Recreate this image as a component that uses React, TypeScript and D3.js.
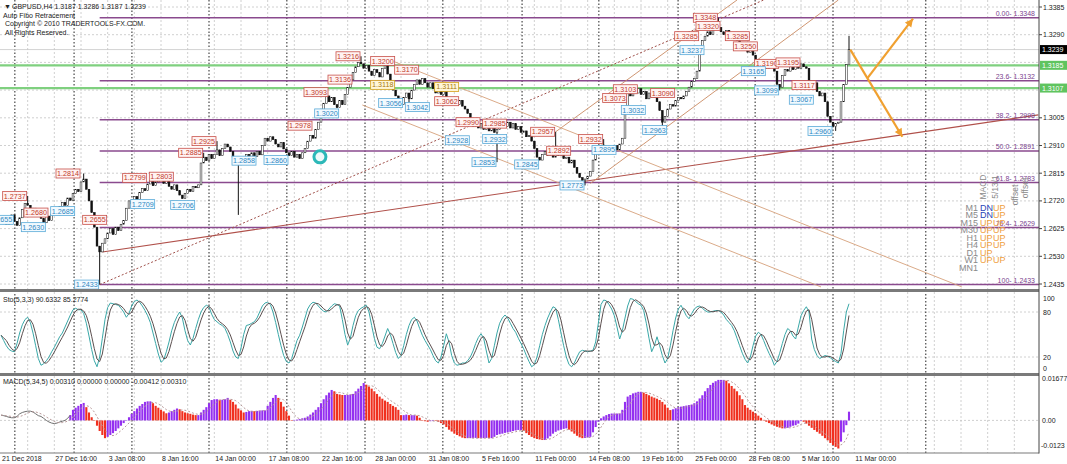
import React from "react";
import * as d3 from "d3";

// ---- price data (H4 closes) ----
const firstOpen = 1.2655;
const closes = [
  1.2650, 1.2662, 1.2640, 1.2655, 1.2672, 1.2650, 1.2636, 1.2662, 1.2690, 1.2712,
  1.2705, 1.2680, 1.2695, 1.2670, 1.2688, 1.2660, 1.2645, 1.2668, 1.2652, 1.2675,
  1.2690, 1.2672, 1.2700, 1.2715, 1.2705, 1.2730, 1.2722, 1.2745, 1.2760, 1.2752,
  1.2785, 1.2795, 1.2760, 1.2720, 1.2680, 1.2630, 1.2565, 1.2545, 1.2575, 1.2590,
  1.2610, 1.2625, 1.2605, 1.2630, 1.2618, 1.2640, 1.2652, 1.2695, 1.2720, 1.2710,
  1.2735, 1.2725, 1.2748, 1.2762, 1.2755, 1.2778, 1.2790, 1.2772, 1.2785, 1.2800,
  1.2795, 1.2780, 1.2790, 1.2770, 1.2760, 1.2775, 1.2755, 1.2740, 1.2728, 1.2745,
  1.2760, 1.2752, 1.2770, 1.2765, 1.2775, 1.2850, 1.2870, 1.2858, 1.2880, 1.2865,
  1.2880, 1.2895, 1.2875, 1.2900, 1.2915, 1.2905, 1.2890, 1.2870, 1.2860, 1.2850,
  1.2870, 1.2862, 1.2880, 1.2868, 1.2885, 1.2872, 1.2890, 1.2878, 1.2910, 1.2935,
  1.2925, 1.2940, 1.2930, 1.2915, 1.2905, 1.2920, 1.2898, 1.2885, 1.2875, 1.2890,
  1.2870, 1.2880, 1.2865, 1.2885, 1.2900, 1.2925, 1.2945, 1.2935, 1.2965, 1.2990,
  1.3030, 1.3055, 1.3080, 1.3060, 1.3075, 1.3050, 1.3040, 1.3065, 1.3050, 1.3085,
  1.3110, 1.3135, 1.3160, 1.3180, 1.3195, 1.3190, 1.3175, 1.3185, 1.3165, 1.3150,
  1.3170, 1.3160, 1.3145, 1.3175, 1.3185, 1.3155, 1.3130, 1.3100, 1.3080, 1.3060,
  1.3050, 1.3075, 1.3090, 1.3070, 1.3100, 1.3120, 1.3135, 1.3120, 1.3140, 1.3125,
  1.3110, 1.3125, 1.3105, 1.3090, 1.3100, 1.3085, 1.3095, 1.3070, 1.3060, 1.3075,
  1.3060, 1.3050, 1.3065, 1.3045, 1.3035, 1.3020, 1.2990, 1.2975, 1.2985, 1.2970,
  1.2985, 1.2965, 1.2980, 1.2960, 1.2975, 1.2955, 1.2965, 1.2980, 1.2995, 1.2975,
  1.2990, 1.2970, 1.2985, 1.2965, 1.2975, 1.2955, 1.2960, 1.2940, 1.2945, 1.2925,
  1.2900, 1.2870, 1.2860, 1.2880, 1.2890, 1.2875, 1.2885, 1.2870, 1.2880, 1.2875,
  1.2880, 1.2865, 1.2870, 1.2850, 1.2860, 1.2835, 1.2815, 1.2800, 1.2790, 1.2795,
  1.2805, 1.2820, 1.2860, 1.2885, 1.2900, 1.2910, 1.2895, 1.2905, 1.2890, 1.2900,
  1.2910, 1.2895, 1.2915, 1.2935, 1.3040, 1.3095, 1.3080, 1.3100, 1.3090, 1.3105,
  1.3085, 1.3095, 1.3070, 1.3090, 1.3075, 1.3085, 1.3060, 1.3030, 1.2990, 1.3010,
  1.3035, 1.3050, 1.3045, 1.3065, 1.3075, 1.3070, 1.3080, 1.3095, 1.3110, 1.3130,
  1.3140, 1.3165, 1.3250, 1.3270, 1.3285, 1.3300, 1.3290, 1.3310, 1.3320, 1.3315,
  1.3300, 1.3290, 1.3305, 1.3285, 1.3275, 1.3290, 1.3270, 1.3255, 1.3260, 1.3240,
  1.3230, 1.3240, 1.3220, 1.3205, 1.3195, 1.3200, 1.3185, 1.3175, 1.3190, 1.3180,
  1.3165, 1.3120, 1.3110, 1.3150, 1.3170, 1.3165, 1.3180, 1.3170, 1.3185, 1.3175,
  1.3190, 1.3180, 1.3175, 1.3130, 1.3110, 1.3125, 1.3095, 1.3080, 1.3090, 1.3060,
  1.3010, 1.2990, 1.2975, 1.2985, 1.2990, 1.3060, 1.3120, 1.3187, 1.3239,
];

// notable wick extremes
const wickHighBars = [10, 31, 76, 81, 135, 208, 226, 269, 318];
const wickHighPrices = [1.2737, 1.2814, 1.2885, 1.2925, 1.3216, 1.2957, 1.2932, 1.3348, 1.3286];
const wickLowBars = [37, 89, 153, 186, 219, 248, 292, 313];
const wickLowPrices = [1.2433, 1.2672, 1.3042, 1.2853, 1.2773, 1.2963, 1.3099, 1.2960];

// Stochastic (5,3,3) main line
const stochMain = [
  49, 42, 35, 30, 28, 27, 38, 52, 63, 70,
  73, 66, 52, 35, 18, 9, 11, 15, 20, 27,
  33, 40, 47, 52, 60, 68, 76, 83, 85, 83,
  83, 78, 65, 48, 30, 15, 7, 20, 45, 70,
  86, 92, 91, 90, 89, 85, 80, 73, 78, 88,
  94, 96, 93, 88, 82, 75, 66, 52, 38, 24,
  13, 16, 27, 40, 55, 66, 74, 80, 72, 55,
  42, 36, 45, 58, 70, 80, 86, 89, 87, 77,
  70, 67, 64, 62, 58, 50, 40, 28, 20, 18,
  32, 50, 62, 63, 65, 67, 72, 80, 88, 92,
  93, 90, 80, 66, 50, 35, 22, 14, 12, 18,
  30, 42, 49, 60, 72, 84, 90, 93, 92, 88,
  84, 81, 80, 84, 88, 91, 90, 88, 70, 50,
  36, 45, 62, 75, 82, 85, 87, 89, 80, 62,
  45, 33, 31, 38, 48, 58, 50, 38, 26, 18,
  22, 35, 50, 62, 70, 73, 68, 58, 49, 42,
  36, 30, 22, 15, 12, 20, 35, 51, 40, 22,
  12, 9, 10, 12, 12, 15, 20, 28, 38, 46,
  51, 45, 28, 12, 18, 35, 52, 65, 72, 76,
  72, 65, 58, 53, 45, 38, 31, 22, 14, 7,
  10, 20, 35, 50, 62, 72, 80, 87, 85, 70,
  52, 35, 20, 10, 7, 12, 20, 27, 29, 28,
  27, 28, 29, 40, 65, 90, 96, 95, 90, 84,
  75, 60, 44, 55, 72, 88, 98, 97, 94, 91,
  89, 82, 65, 45, 27, 35, 47, 35, 22, 12,
  18, 35, 55, 72, 84, 89, 82, 75, 71, 78,
  84, 87, 88, 85, 82, 80, 80, 81, 82, 82,
  80, 76, 70, 66, 62, 55, 45, 35, 25, 17,
  12, 20, 35, 48, 53, 50, 42, 33, 25, 18,
  9, 14, 25, 38, 50, 58, 55, 48, 44, 60,
  75, 82, 87, 80, 44, 30, 22, 18, 20, 22,
  21, 19, 16, 14, 12, 25, 55, 80, 91,
];

// MACD (5,34,5) main values, in units of 0.0001
const macdTicks = [
  20, 18, 15, 12, 10, 10, 15, 25, 30, 33,
  35, 35, 32, 25, 18, 15, 8, 0, -6, -10,
  -12, -10, -6, -3, 0, 8, 20, 40, 48, 55,
  62, 66, 50, 30, 12, 0, -20, -40, -55, -67,
  -62, -55, -48, -40, -30, -20, -10, 0, 12, 25,
  35, 45, 55, 62, 70, 72, 72, 65, 55, 48,
  40, 34, 27, 30, 35, 40, 45, 42, 35, 30,
  27, 25, 22, 20, 20, 30, 40, 50, 65, 77,
  80, 80, 78, 78, 80, 85, 78, 70, 60, 45,
  38, 30, 32, 35, 36, 35, 36, 37, 38, 38,
  55, 70, 85, 96, 85, 70, 52, 35, 18, 0,
  2, 3, 5, 8, 10, 15, 22, 30, 40, 50,
  65, 80, 95, 105, 115, 110, 100, 98, 96, 96,
  96, 98, 100, 110, 120, 130, 141, 135, 128, 120,
  110, 100, 90, 82, 75, 70, 62, 55, 50, 40,
  20, 20, 22, 20, 20, 20, 18, 10, 0, -3,
  -5, -3, 0, -2, -5, -10, -15, -25, -35, -42,
  -50, -55, -60, -65, -67, -67, -67, -67, -66, -67,
  -67, -67, -66, -67, -67, -62, -55, -52, -50, -47,
  -45, -43, -40, -38, -36, -36, -40, -48, -55, -62,
  -67, -70, -72, -74, -74, -68, -60, -50, -43, -38,
  -35, -32, -30, -35, -42, -50, -58, -64, -67, -66,
  -64, -62, -45, -25, -5, 8, 15, 20, 24, 26,
  26, 26, 26, 40, 70, 90, 96, 102, 105, 108,
  108, 105, 100, 95, 90, 86, 82, 77, 70, 60,
  48, 39, 42, 46, 50, 52, 54, 56, 58, 60,
  65, 72, 83, 95, 110, 122, 134, 142, 148, 153,
  153, 153, 150, 140, 130, 120, 110, 95, 80, 58,
  48, 40, 33, 26, 18, 10, 2, -5, -10, -15,
  -20, -24, -27, -30, -30, -28, -24, -20, -18, -12,
  0, -5, -12, -20, -28, -36, -43, -50, -58, -67,
  -75, -85, -93, -100, -106, -80, -45, -18, 33,
];
const macdHistStart = 26;

// axis labels
const xLabelTexts = [
  "21 Dec 2018", "27 Dec 16:00", "3 Jan 08:00", "8 Jan 16:00", "14 Jan 00:00",
  "17 Jan 08:00", "22 Jan 16:00", "28 Jan 00:00", "31 Jan 08:00", "5 Feb 16:00",
  "11 Feb 00:00", "14 Feb 08:00", "19 Feb 16:00", "25 Feb 00:00", "28 Feb 08:00",
  "5 Mar 16:00", "11 Mar 00:00",
];
const barsPerLabel = 20;
const priceTicks = [1.3385, 1.329, 1.3195, 1.31, 1.3005, 1.291, 1.2815, 1.272, 1.2625, 1.253, 1.2435];
const hiddenPriceTicks = [1.3195, 1.31];
const separatorBars = [5.2, 27.4, 49.1, 78, 107.2, 136.5, 165.7, 195.4, 224.2, 253.9, 282.8, 312, 346.8];

// auto fibo
const fibLevels = ["0.00", "23.6", "38.2", "50.0", "61.8", "76.4", "100"];
const fibPrices = [1.3348, 1.3132, 1.2998, 1.2891, 1.2783, 1.2629, 1.2433];
const fibStartBar = 37;
const greenLevels = [1.3185, 1.3107];
const lastPrice = 1.3239;

// swing labels
const hiLabelBars = [10, 18, 30, 40, 55, 65, 76, 81, 117, 123, 132, 135, 148, 157, 172, 180, 190, 208, 214, 226, 235, 239, 253, 262, 269, 270, 281, 284, 292, 300, 306];
const hiLabelPrices = [1.2737, 1.268, 1.2814, 1.2655, 1.2799, 1.2803, 1.2885, 1.2925, 1.2978, 1.3093, 1.3136, 1.3216, 1.32, 1.317, 1.3062, 1.299, 1.2985, 1.2957, 1.2892, 1.2932, 1.3073, 1.3103, 1.309, 1.3285, 1.3348, 1.332, 1.3285, 1.325, 1.319, 1.3195, 1.3117];
const loLabelBars = [5, 17, 28, 37, 58, 73, 96, 108, 127, 151, 161, 176, 190, 186, 202, 219, 231, 242, 250, 264, 287, 292, 305, 312];
const loLabelPrices = [1.2655, 1.263, 1.2685, 1.2433, 1.2709, 1.2706, 1.2858, 1.286, 1.302, 1.3056, 1.3042, 1.2928, 1.2932, 1.2853, 1.2845, 1.2773, 1.2895, 1.3032, 1.2963, 1.3237, 1.3165, 1.3099, 1.3067, 1.296];
const midLabelBars = [148, 172];
const midLabelPrices = [1.3118, 1.3111];

// trendlines as [bar, price] anchors
const trendSolid = [[38, 1.2545], [389, 1.3015]];
const trendDotted = [[37, 1.2433], [286, 1.3409]];
const channelUp = [
  [[221, 1.278], [314, 1.3409]],
  [[208, 1.2957], [276, 1.3409]],
];
const channelDown = [
  [[144, 1.321], [360.3, 1.2425]],
  [[135.5, 1.3049], [307.5, 1.2425]],
];
const arrowPaths = [
  [[318.5, 1.3239], [338, 1.294]],
  [[325, 1.3142], [342, 1.3345]],
];
const ringPoint = [119.6, 1.2871];

// multi-timeframe MACD panel
const mtfFrames = ["M1", "M5", "M15", "M30", "H1", "H4", "D1", "W1", "MN1"];
const mtfCol1 = ["DN", "DN", "UP", "UP", "UP", "UP", "UP", "UP", ""];
const mtfCol2 = ["UP", "UP", "UP", "UP", "UP", "UP", "", "UP", ""];
const mtfHeaders = ["MACD", "5/13/1", "offset", "offset"];

const FONT = "'Liberation Sans', Arial, sans-serif";
const AXIS_X = 1039;

export default function App() {
  const n = closes.length;
  const x = d3.scaleLinear().domain([0, n - 1]).range([1, 849]);
  const y = d3.scaleLinear().domain([1.2435, 1.3385]).range([284, 7]);
  const ys = d3.scaleLinear().domain([0, 100]).range([372, 297]);
  const ym = d3.scaleLinear().domain([-0.0123, 0.01677]).range([453, 376]);

  const opens = closes.map((c, i) => (i === 0 ? firstOpen : closes[i - 1]));
  const highs = closes.map((c, i) => Math.max(c, opens[i]));
  const lows = closes.map((c, i) => Math.min(c, opens[i]));
  wickHighBars.forEach((b, k) => (highs[b] = Math.max(highs[b], wickHighPrices[k])));
  wickLowBars.forEach((b, k) => (lows[b] = Math.min(lows[b], wickLowPrices[k])));

  const macd = macdTicks.map((v) => v / 10000);
  const stochSignal = stochMain.map((_, i) => d3.mean(stochMain.slice(Math.max(0, i - 2), i + 1)) as number);
  const macdSignal = macd.map((_, i) => d3.mean(macd.slice(Math.max(0, i - 4), i + 1)) as number);

  const stochLine = d3.line<number>().x((_, i) => x(i)).y((v) => ys(v));
  const macdLine = d3.line<number>().x((_, i) => x(i)).y((v) => ym(v));
  const seg = (p: number[][]) => d3.line<number[]>().x((d) => x(d[0])).y((d) => y(d[1]))(p) as string;

  const gridBars = d3.range(10, 390, 10);

  const label = (bar: number, price: number, kind: string, key: string) => {
    const w = 24;
    const xr = x(bar) - 1;
    const yc = y(price);
    const st =
      kind === "hi"
        ? { fill: "#fff3f2", stroke: "#c8504a", text: "#c0392b" }
        : kind === "lo"
        ? { fill: "#f2faff", stroke: "#5aaad8", text: "#2e86c1" }
        : { fill: "#fff6d8", stroke: "#d4a017", text: "#a87a0b" };
    return (
      <g key={key}>
        <rect x={xr - w} y={yc - 4.5} width={w} height={9} fill={st.fill} stroke={st.stroke} strokeWidth={0.8} />
        <text x={xr - w / 2} y={yc + 2.6} fontSize={7.2} fill={st.text} textAnchor="middle">
          {price.toFixed(4)}
        </text>
      </g>
    );
  };

  const arrowHead = (p: number[][], key: string) => {
    const x1 = x(p[0][0]), y1 = y(p[0][1]), x2 = x(p[1][0]), y2 = y(p[1][1]);
    const a = Math.atan2(y2 - y1, x2 - x1);
    const L = 8, Wd = 4;
    const bx = x2 - L * Math.cos(a), by = y2 - L * Math.sin(a);
    const pts = [
      [x2, y2],
      [bx + Wd * Math.sin(a), by - Wd * Math.cos(a)],
      [bx - Wd * Math.sin(a), by + Wd * Math.cos(a)],
    ];
    return <polygon key={key} points={pts.map((q) => q.join(",")).join(" ")} fill="#f0a030" />;
  };

  return (
    <div style={{ position: "absolute", left: 0, top: 0 }}>
      <svg width={1067} height={464} fontFamily={FONT} style={{ display: "block", background: "#fff" }}>
        <defs>
          <clipPath id="mainClip">
            <rect x={0} y={0} width={AXIS_X} height={289} />
          </clipPath>
        </defs>
        <rect width={1067} height={464} fill="#fff" />

        {/* grid */}
        {gridBars.map((b) => (
          <line key={"gv" + b} x1={x(b)} x2={x(b)} y1={0} y2={453} stroke="#c4c4c4" strokeWidth={0.8} strokeDasharray="2,2" />
        ))}
        {priceTicks.map((p) => (
          <line key={"gh" + p} x1={0} x2={AXIS_X} y1={y(p)} y2={y(p)} stroke="#c4c4c4" strokeWidth={0.8} strokeDasharray="2,2" />
        ))}
        {[80, 20].map((v) => (
          <line key={"gs" + v} x1={0} x2={AXIS_X} y1={ys(v)} y2={ys(v)} stroke="#c4c4c4" strokeWidth={0.8} strokeDasharray="2,2" />
        ))}
        <line x1={0} x2={AXIS_X} y1={ym(0)} y2={ym(0)} stroke="#c4c4c4" strokeWidth={0.8} strokeDasharray="2,2" />
        {separatorBars.map((b) => (
          <line key={"sep" + b} x1={x(b)} x2={x(b)} y1={0} y2={453} stroke="#222" strokeWidth={1} strokeDasharray="1.5,2" />
        ))}

        <g clipPath="url(#mainClip)">
          {/* fibo + support lines */}
          {fibPrices.map((p) => (
            <line key={"fib" + p} x1={x(fibStartBar)} x2={AXIS_X} y1={y(p)} y2={y(p)} stroke="#8a4a8e" strokeWidth={1.5} />
          ))}
          {greenLevels.map((p) => (
            <line key={"gl" + p} x1={0} x2={AXIS_X} y1={y(p)} y2={y(p)} stroke="#7fd07f" strokeWidth={2.2} />
          ))}
          <line x1={0} x2={AXIS_X} y1={y(lastPrice)} y2={y(lastPrice)} stroke="#c8c8c8" strokeWidth={0.8} />

          {/* trendlines */}
          <path d={seg(trendSolid)} stroke="#b0504a" strokeWidth={1.1} fill="none" />
          <path d={seg(trendDotted)} stroke="#a0504a" strokeWidth={1} strokeDasharray="2,2" fill="none" />
          {channelUp.map((p, i) => (
            <path key={"cu" + i} d={seg(p)} stroke="#c98a62" strokeWidth={0.9} fill="none" />
          ))}
          {channelDown.map((p, i) => (
            <path key={"cd" + i} d={seg(p)} stroke="#d6a07a" strokeWidth={0.9} fill="none" />
          ))}

          {/* candles */}
          {closes.map((c, i) => {
            const o = opens[i];
            const top = y(Math.max(o, c));
            const bot = y(Math.min(o, c));
            return (
              <g key={"c" + i}>
                <line x1={x(i)} x2={x(i)} y1={y(highs[i])} y2={y(lows[i])} stroke="#111" strokeWidth={1} />
                <rect x={x(i) - 0.9} y={top} width={1.8} height={Math.max(1, bot - top)} fill={c >= o ? "#fff" : "#111"} stroke="#111" strokeWidth={0.5} />
              </g>
            );
          })}

          {/* swing labels */}
          {hiLabelBars.map((b, i) => label(b, hiLabelPrices[i], "hi", "hl" + i))}
          {midLabelBars.map((b, i) => label(b, midLabelPrices[i], "mid", "ml" + i))}
          {loLabelBars.map((b, i) => label(b, loLabelPrices[i], "lo", "ll" + i))}

          {/* forecast arrows */}
          {arrowPaths.map((p, i) => (
            <line key={"ar" + i} x1={x(p[0][0])} y1={y(p[0][1])} x2={x(p[1][0])} y2={y(p[1][1])} stroke="#f0a030" strokeWidth={2.2} />
          ))}
          {arrowPaths.map((p, i) => arrowHead(p, "ah" + i))}

          <circle cx={x(ringPoint[0])} cy={y(ringPoint[1])} r={6} fill="#eefafa" stroke="#2cb8b8" strokeWidth={3} />

          {/* fibo labels */}
          {fibPrices.map((p, i) => (
            <text key={"ft" + i} x={AXIS_X - 4} y={y(p) - 1.8} fontSize={7} fill="#7b3f8f" textAnchor="end">
              {fibLevels[i]}- {p.toFixed(4)}
            </text>
          ))}

          {/* MTF MACD block */}
          {mtfHeaders.map((h, i) => {
            const cx = [983, 995, 1015, 1025][i];
            const cy = [187, 187, 195, 188][i];
            return (
              <text key={"mh" + i} x={cx} y={cy} fontSize={8.5} fill="#8a8a8a" textAnchor="middle" transform={`rotate(-90 ${cx} ${cy})`} dy={3}>
                {h}
              </text>
            );
          })}
          {mtfFrames.map((f, i) => {
            const yy = 211 + i * 7.45;
            return (
              <g key={"mf" + f} fontSize={9}>
                <text x={978} y={yy} textAnchor="end" fill="#8a8a8a">{f}</text>
                <text x={980} y={yy} fill={mtfCol1[i] === "DN" ? "#2a44b8" : "#f0a040"}>{mtfCol1[i]}</text>
                <text x={993} y={yy} fill={mtfCol2[i] === "DN" ? "#2a44b8" : "#f0a040"}>{mtfCol2[i]}</text>
              </g>
            );
          })}
        </g>

        {/* Stochastic */}
        <path d={stochLine(stochMain) as string} stroke="#3aa8a8" strokeWidth={1} fill="none" />
        <path d={stochLine(stochSignal) as string} stroke="#5c5050" strokeWidth={1} fill="none" />

        {/* MACD */}
        {macd.map((v, i) =>
          i < macdHistStart ? null : (
            <rect
              key={"h" + i}
              x={x(i) - 1.05}
              y={Math.min(ym(0), ym(v))}
              width={2.1}
              height={Math.max(0.5, Math.abs(ym(v) - ym(0)))}
              fill={v >= macd[i - 1] ? "#9430f0" : "#f0301f"}
            />
          )
        )}
        <path d={macdLine(macd.slice(0, macdHistStart + 1)) as string} stroke="#707070" strokeWidth={1} fill="none" />
        <path d={macdLine(macdSignal) as string} stroke="#b89a9a" strokeWidth={1} strokeDasharray="2,2" fill="none" />

        {/* panel separators and frame */}
        <rect x={0} y={289} width={AXIS_X} height={3} fill="#7a7a7a" />
        <rect x={0} y={373} width={AXIS_X} height={3} fill="#7a7a7a" />
        <line x1={0} x2={AXIS_X} y1={453} y2={453} stroke="#7a7a7a" strokeWidth={1.2} />
        <line x1={AXIS_X} x2={AXIS_X} y1={0} y2={453.5} stroke="#444" strokeWidth={1} />

        {/* indicator titles */}
        <g fontSize={7} fill="#222">
          <text x={4} y={8.5}>▼</text>
          <text x={12} y={8.5}>GBPUSD,H4  1.3187 1.3286 1.3187 1.3239</text>
          <text x={3} y={17.5}>Auto Fibo Retracement</text>
          <text x={5} y={26}>Copyright © 2010 TRADERTOOLS-FX.COM.</text>
          <text x={5} y={34.5}>All Rights Reserved.</text>
          <text x={3} y={302}>Sto(5,3,3) 90.6332 85.2774</text>
          <text x={3} y={384}>MACD(5,34,5) 0.00310 0.00000 0.00000 -0.00412 0.00310</text>
        </g>

        {/* price axis */}
        <g fontSize={7} fill="#222">
          {priceTicks
            .filter((p) => !hiddenPriceTicks.includes(p))
            .map((p) => (
              <g key={"pt" + p}>
                <line x1={AXIS_X} x2={AXIS_X + 3} y1={y(p)} y2={y(p)} stroke="#444" />
                <text x={AXIS_X + 4} y={y(p) + 2.5}>{p.toFixed(4)}</text>
              </g>
            ))}
          <rect x={AXIS_X + 1} y={y(lastPrice) - 4.5} width={27} height={9} fill="#000" />
          <text x={AXIS_X + 3} y={y(lastPrice) + 2.5} fill="#fff">{lastPrice.toFixed(4)}</text>
          {greenLevels.map((p) => (
            <g key={"gb" + p}>
              <rect x={AXIS_X + 1} y={y(p) - 4.5} width={27} height={9} fill="#5fc45f" />
              <text x={AXIS_X + 3} y={y(p) + 2.5} fill="#fff">{p.toFixed(4)}</text>
            </g>
          ))}
          {[100, 80, 20, 0].map((v) => (
            <text key={"sl" + v} x={AXIS_X + 4} y={Math.min(Math.max(ys(v), 298), 368) + 2.5}>{v}</text>
          ))}
          <text x={AXIS_X + 3} y={ym(0.01677) + 5}>0.01677</text>
          <text x={AXIS_X + 3} y={ym(0) + 2.5}>0.00</text>
          <text x={AXIS_X + 2} y={ym(-0.0123) - 5}>-0.0123</text>
        </g>

        {/* time axis */}
        <g fontSize={7} fill="#222">
          {xLabelTexts.map((t, k) => (
            <text key={"xl" + k} x={x(k * barsPerLabel) + 1} y={461}>{t}</text>
          ))}
        </g>
      </svg>
    </div>
  );
}
